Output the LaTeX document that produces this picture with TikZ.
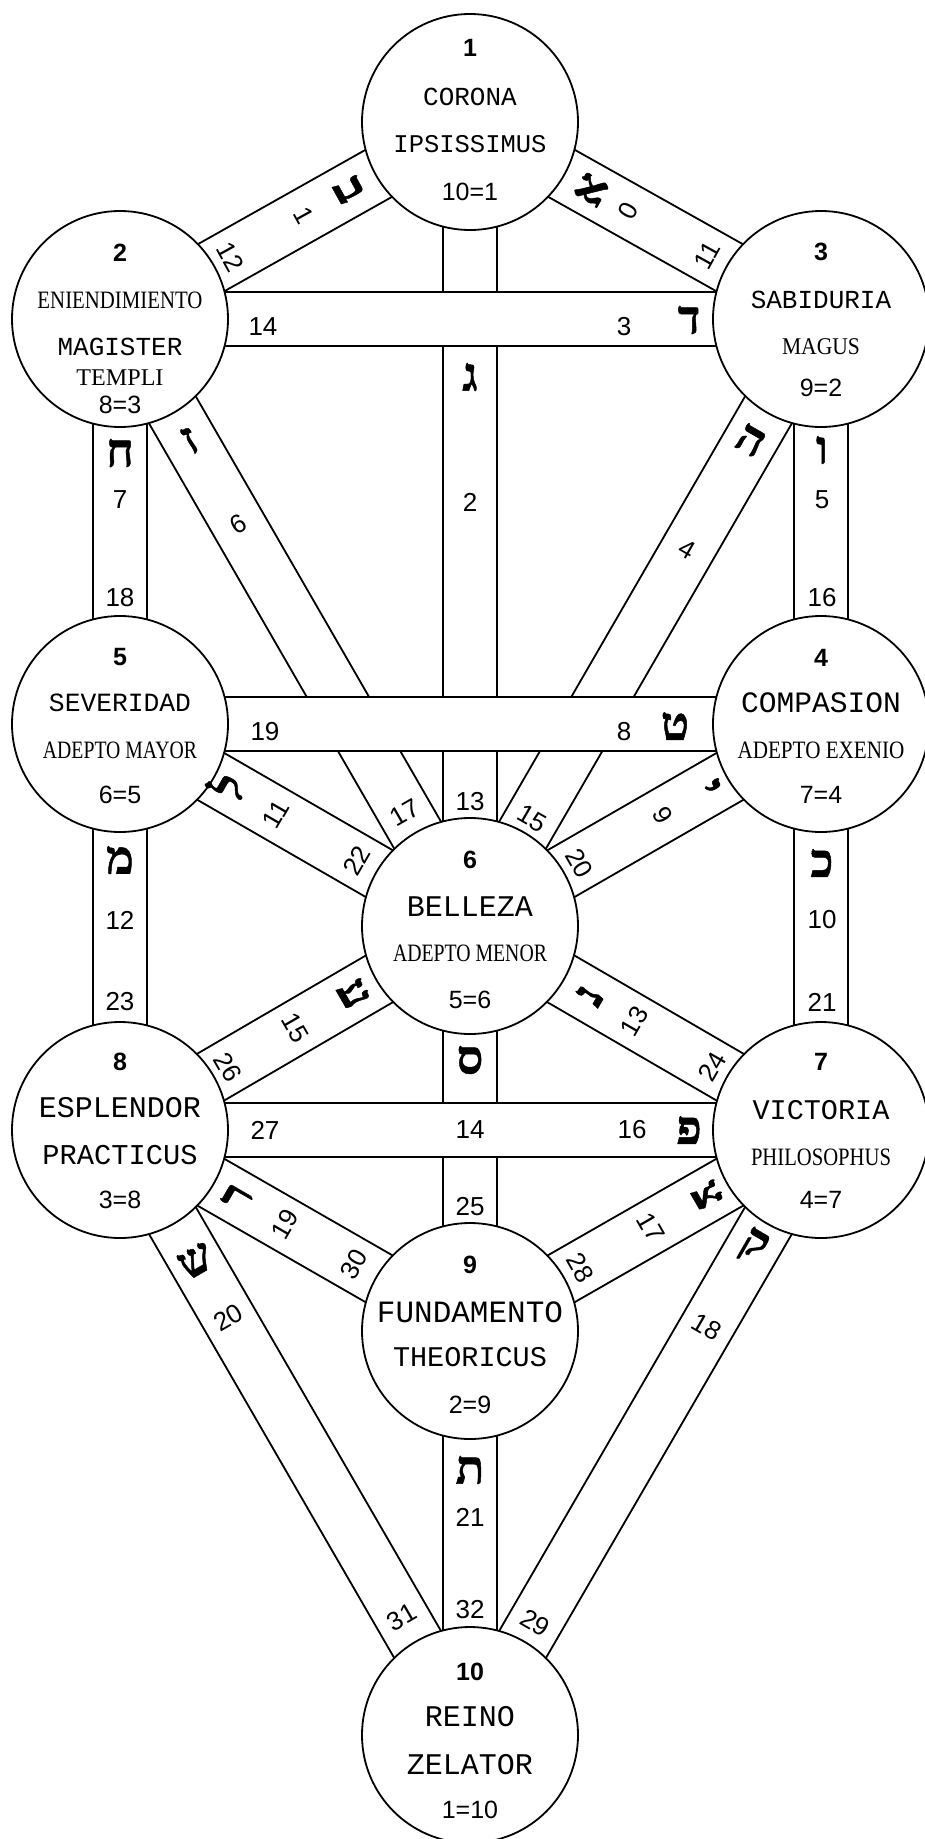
\documentclass[tikz,border=0pt]{standalone}
\usepackage{fontspec}
\usepackage{graphicx}
\usetikzlibrary{calc}
\TeXXeTstate=1
\newfontfamily\monof{Liberation Mono}
\newfontfamily\sansf{Liberation Sans}
\newfontfamily\serf{Liberation Serif}
\newfontfamily\hebf[Script=Hebrew,FakeBold=1]{Liberation Serif}
\newcommand\fs[1]{\fontsize{#1}{#1}\selectfont}
\newcommand\cond[3]{\resizebox{#1pt}{\height}{\serf\fs{#2}#3}}
\newcommand\hb[1]{\beginR #1\endR}
\newcommand\band[2]{%
 \fill[white] ($(#1.center)!27pt!90:(#2.center)$) -- ($(#2.center)!27pt!-90:(#1.center)$) -- ($(#2.center)!27pt!90:(#1.center)$) -- ($(#1.center)!27pt!-90:(#2.center)$) -- cycle;
 \draw[bl] ($(#1.center)!27pt!90:(#2.center)$) -- ($(#2.center)!27pt!-90:(#1.center)$);
 \draw[bl] ($(#1.center)!27pt!-90:(#2.center)$) -- ($(#2.center)!27pt!90:(#1.center)$);}
\pgfdeclarelayer{bg}
\pgfsetlayers{bg,main}
\begin{document}
\begin{tikzpicture}[x={(1pt,0)}, y={(0,-1pt)},
  circ/.style={circle, draw, line width=1.8pt, fill=white, minimum size=216pt, inner sep=0pt},
  bl/.style={line width=1.8pt},
  lab/.style={inner sep=0pt, font=\sansf\fs{26}},
  cnum/.style={inner sep=0pt, font=\sansf\bfseries\fs{25}},
  eq/.style={inner sep=0pt, font=\sansf\fs{25}},
  nm/.style={inner sep=0pt, font=\monof},
  heb/.style={inner sep=0pt, font=\hebf\bfseries\fs{47}},
]
\useasboundingbox (0,0) rectangle (925,1839);
% circles (sefirot)
\node[circ] (c1) at (470,122) {};
\node[circ] (c2) at (120,319) {};
\node[circ] (c3) at (821,319) {};
\node[circ] (c5) at (120,724) {};
\node[circ] (c4) at (821,724) {};
\node[circ] (c6) at (470,926) {};
\node[circ] (c8) at (120,1130) {};
\node[circ] (c7) at (821,1130) {};
\node[circ] (c9) at (470,1331) {};
\node[circ] (c10) at (470,1735) {};
\begin{pgfonlayer}{bg}
\fill[white] (0,0) rectangle (925,1839);
\band{c1}{c2}
\band{c1}{c3}
\band{c1}{c6}
\band{c2}{c5}
\band{c3}{c4}
\band{c2}{c6}
\band{c3}{c6}
\band{c5}{c6}
\band{c4}{c6}
\band{c5}{c8}
\band{c4}{c7}
\band{c6}{c8}
\band{c6}{c7}
\band{c6}{c9}
\band{c8}{c9}
\band{c7}{c9}
\band{c8}{c10}
\band{c7}{c10}
\band{c9}{c10}
\band{c2}{c3}
\band{c5}{c4}
\band{c8}{c7}
\end{pgfonlayer}
% circle texts
\node[cnum] (n1) at (470,48) {1};
\node[nm] (a1) at (470,97) {\fs{26}CORONA};
\node[nm] (b1) at (470,144) {\fs{25.5}IPSISSIMUS};
\node[eq] (e1) at (470,192) {10=1};
\node[cnum] (n2) at (120,253) {2};
\node[inner sep=0pt] (a2) at (120,300) {\cond{165}{25}{ENIENDIMIENTO}};
\node[nm] (b2) at (120,347) {\fs{26}MAGISTER};
\node[inner sep=0pt] (d2) at (120,378) {\cond{87}{24}{TEMPLI}};
\node[eq] (e2) at (120,405) {8=3};
\node[cnum] (n3) at (821,252) {3};
\node[nm] (a3) at (821,300) {\fs{26}SABIDURIA};
\node[inner sep=0pt] (b3) at (821,347) {\cond{78}{24}{MAGUS}};
\node[eq] (e3) at (821,388) {9=2};
\node[cnum] (n5) at (120,657) {5};
\node[nm] (a5) at (120,703) {\fs{26.3}SEVERIDAD};
\node[inner sep=0pt] (b5) at (120,750) {\cond{154}{25}{ADEPTO MAYOR}};
\node[eq] (e5) at (120,795) {6=5};
\node[cnum] (n4) at (821,658) {4};
\node[nm] (a4) at (821,703) {\fs{29.6}COMPASION};
\node[inner sep=0pt] (b4) at (821,750) {\cond{167}{25}{ADEPTO EXENIO}};
\node[eq] (e4) at (821,795) {7=4};
\node[cnum] (n6) at (470,860) {6};
\node[nm] (a6) at (470,907) {\fs{30}BELLEZA};
\node[inner sep=0pt] (b6) at (470,953) {\cond{154}{25}{ADEPTO MENOR}};
\node[eq] (e6) at (470,1000) {5=6};
\node[cnum] (n8) at (120,1062) {8};
\node[nm] (a8) at (120,1108) {\fs{30}ESPLENDOR};
\node[nm] (b8) at (120,1155) {\fs{28.7}PRACTICUS};
\node[eq] (e8) at (120,1200) {3=8};
\node[cnum] (n7) at (821,1062) {7};
\node[nm] (a7) at (821,1110) {\fs{28.5}VICTORIA};
\node[inner sep=0pt] (b7) at (821,1157) {\cond{140}{25}{PHILOSOPHUS}};
\node[eq] (e7) at (821,1200) {4=7};
\node[cnum] (n9) at (470,1265) {9};
\node[nm] (a9) at (470,1312) {\fs{31}FUNDAMENTO};
\node[nm] (b9) at (470,1357) {\fs{28.5}THEORICUS};
\node[eq] (e9) at (470,1405) {2=9};
\node[cnum] (n10) at (470,1672) {10};
\node[nm] (a10) at (470,1717) {\fs{30}REINO};
\node[nm] (b10) at (470,1765) {\fs{30}ZELATOR};
\node[eq] (e10) at (470,1810) {1=10};
% diagonal path labels
\node[heb, rotate=-61] (h12) at ($(c1.center)!0.345!(c2.center)$) {\hb{ב}};
\node[lab, rotate=-61] (t12) at ($(c1.center)!0.475!(c2.center)$) {1};
\node[lab, rotate=-61] (p12) at ($(c1.center)!0.685!(c2.center)$) {12};
\node[heb, rotate=61] (h11) at ($(c1.center)!0.345!(c3.center)$) {\hb{א}};
\node[lab, rotate=61] (t11) at ($(c1.center)!0.45!(c3.center)$) {0};
\node[lab, rotate=61] (p11) at ($(c1.center)!0.675!(c3.center)$) {11};
\node[heb, rotate=30] (h17) at ($(c2.center)!0.2!(c6.center)$) {\hb{ז}};
\node[lab, rotate=30] (t17) at ($(c2.center)!0.338!(c6.center)$) {6};
\node[lab, rotate=30] (p17) at ($(c2.center)!0.813!(c6.center)$) {17};
\node[heb, rotate=-30] (h15) at ($(c3.center)!0.2!(c6.center)$) {\hb{ה}};
\node[lab, rotate=-30] (t15) at ($(c3.center)!0.38!(c6.center)$) {4};
\node[lab, rotate=-30] (p15) at ($(c3.center)!0.823!(c6.center)$) {15};
\node[heb, rotate=60] (h22) at ($(c5.center)!0.305!(c6.center)$) {\hb{ל}};
\node[lab, rotate=60] (t22) at ($(c5.center)!0.445!(c6.center)$) {11};
\node[lab, rotate=60] (p22) at ($(c5.center)!0.676!(c6.center)$) {22};
\node[heb, rotate=-60] (h20) at ($(c4.center)!0.32!(c6.center)$) {\hb{י}};
\node[lab, rotate=-60] (t20) at ($(c4.center)!0.451!(c6.center)$) {9};
\node[lab, rotate=-60] (p20) at ($(c4.center)!0.689!(c6.center)$) {20};
\node[heb, rotate=-60] (h26) at ($(c6.center)!0.332!(c8.center)$) {\hb{ע}};
\node[lab, rotate=-60] (t26) at ($(c6.center)!0.5!(c8.center)$) {15};
\node[lab, rotate=-60] (p26) at ($(c6.center)!0.692!(c8.center)$) {26};
\node[heb, rotate=60] (h24) at ($(c6.center)!0.34!(c7.center)$) {\hb{נ}};
\node[lab, rotate=60] (t24) at ($(c6.center)!0.468!(c7.center)$) {13};
\node[lab, rotate=60] (p24) at ($(c6.center)!0.69!(c7.center)$) {24};
\node[heb, rotate=60] (h30) at ($(c8.center)!0.335!(c9.center)$) {\hb{ר}};
\node[lab, rotate=60] (t30) at ($(c8.center)!0.47!(c9.center)$) {19};
\node[lab, rotate=60] (p30) at ($(c8.center)!0.668!(c9.center)$) {30};
\node[heb, rotate=-60] (h28) at ($(c7.center)!0.324!(c9.center)$) {\hb{צ}};
\node[lab, rotate=-60] (t28) at ($(c7.center)!0.485!(c9.center)$) {17};
\node[lab, rotate=-60] (p28) at ($(c7.center)!0.685!(c9.center)$) {28};
\node[heb, rotate=30] (h31) at ($(c8.center)!0.216!(c10.center)$) {\hb{ש}};
\node[lab, rotate=30] (t31) at ($(c8.center)!0.31!(c10.center)$) {20};
\node[lab, rotate=30] (p31) at ($(c8.center)!0.805!(c10.center)$) {31};
\node[heb, rotate=-30] (h29) at ($(c7.center)!0.193!(c10.center)$) {\hb{ק}};
\node[lab, rotate=-30] (t29) at ($(c7.center)!0.325!(c10.center)$) {18};
\node[lab, rotate=-30] (p29) at ($(c7.center)!0.814!(c10.center)$) {29};
% vertical path labels
\node[heb] (h18) at (120,453) {\hb{ח}};
\node[lab] (t18) at (120,500) {7};
\node[lab] (p18) at (120,598) {18};
\node[heb] (h16) at (822,450) {\hb{ו}};
\node[lab] (t16) at (822,500) {5};
\node[lab] (p16) at (822,598) {16};
\node[heb] (h13) at (470,377) {\hb{ג}};
\node[lab] (t13) at (470,502) {2};
\node[lab] (p13) at (470,802) {13};
\node[heb] (h23) at (120,860) {\hb{מ}};
\node[lab] (t23) at (120,920) {12};
\node[lab] (p23) at (120,1002) {23};
\node[heb] (h21) at (822,863) {\hb{כ}};
\node[lab] (t21) at (822,920) {10};
\node[lab] (p21) at (822,1002) {21};
\node[heb] (h25) at (470,1060) {\hb{ס}};
\node[lab] (t25) at (470,1130) {14};
\node[lab] (p25) at (470,1207) {25};
\node[heb] (h32) at (470,1470) {\hb{ת}};
\node[lab] (t32) at (470,1517) {21};
\node[lab] (p32) at (470,1610) {32};
% horizontal path labels
\node[lab] (p14) at (263,327) {14};
\node[lab] (t14) at (624,327) {3};
\node[heb] (h14) at (689,320) {\hb{ד}};
\node[lab] (p19) at (265,732) {19};
\node[lab] (t19) at (624,732) {8};
\node[heb] (h19) at (675,726) {\hb{ט}};
\node[lab] (p27) at (265,1130) {27};
\node[lab] (t27) at (632,1130) {16};
\node[heb] (h27) at (689,1130) {\hb{פ}};
\end{tikzpicture}
\end{document}
